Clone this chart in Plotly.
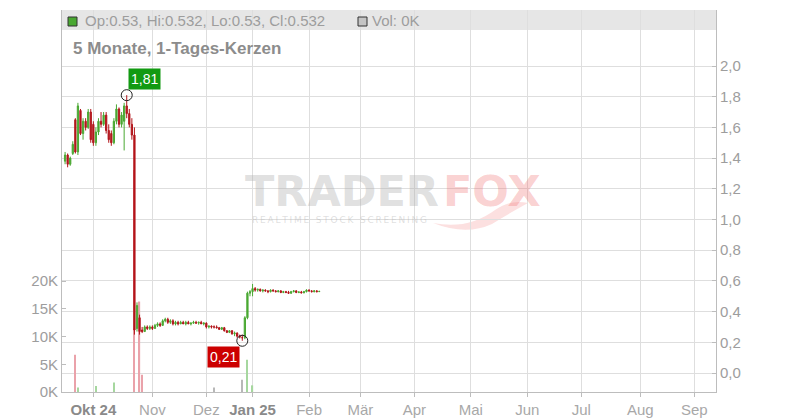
import plotly.graph_objects as go
import pandas as pd

# ---------------- data ----------------
holidays = ["2024-12-24", "2024-12-25", "2024-12-26", "2024-12-31", "2025-01-01"]
dates = [d for d in pd.bdate_range("2024-09-16", "2025-02-07").strftime("%Y-%m-%d") if d not in holidays]

opens = [1.38, 1.42, 1.36, 1.43, 1.65, 1.44, 1.71, 1.56, 1.64, 1.60, 1.70,
         1.62, 1.50, 1.57, 1.64, 1.62, 1.68, 1.58, 1.56, 1.50, 1.64, 1.72, 1.62, 1.64, 1.74, 1.69, 1.62, 1.55, 0.29, 0.36, 0.28, 0.27, 0.30, 0.29,
         0.30, 0.29, 0.31, 0.32, 0.31, 0.34, 0.35, 0.33, 0.34, 0.32, 0.33, 0.32, 0.33, 0.32, 0.33, 0.32, 0.325, 0.33, 0.325, 0.33, 0.32,
         0.325, 0.30, 0.305, 0.30, 0.30, 0.295, 0.285, 0.295, 0.275, 0.265, 0.275, 0.255, 0.26, 0.24, 0.23, 0.23, 0.36, 0.52,
         0.53, 0.55, 0.54, 0.545, 0.535, 0.54, 0.535, 0.53, 0.54, 0.535, 0.53, 0.535, 0.525, 0.53, 0.525, 0.52, 0.53, 0.535, 0.525, 0.528, 0.522, 0.53,
         0.54, 0.535, 0.53, 0.535, 0.53]
highs = [1.44, 1.43, 1.41, 1.51, 1.66, 1.76, 1.72, 1.66, 1.66, 1.72, 1.72,
         1.64, 1.60, 1.66, 1.70, 1.70, 1.70, 1.62, 1.58, 1.66, 1.75, 1.73, 1.70, 1.76, 1.81, 1.72, 1.66, 1.60, 0.46, 0.38, 0.30, 0.31, 0.31, 0.31,
         0.31, 0.32, 0.33, 0.33, 0.35, 0.36, 0.36, 0.35, 0.35, 0.34, 0.34, 0.34, 0.34, 0.34, 0.34, 0.33, 0.34, 0.34, 0.335, 0.34, 0.33,
         0.33, 0.31, 0.31, 0.31, 0.31, 0.30, 0.30, 0.30, 0.28, 0.28, 0.28, 0.27, 0.265, 0.25, 0.25, 0.37, 0.53, 0.54,
         0.58, 0.56, 0.55, 0.55, 0.545, 0.545, 0.54, 0.545, 0.545, 0.54, 0.54, 0.54, 0.535, 0.535, 0.535, 0.535, 0.54, 0.54, 0.53, 0.535, 0.535, 0.545,
         0.545, 0.54, 0.54, 0.54, 0.532]
lows = [1.36, 1.34, 1.35, 1.42, 1.43, 1.42, 1.55, 1.52, 1.58, 1.59, 1.50,
        1.48, 1.48, 1.55, 1.60, 1.61, 1.56, 1.50, 1.48, 1.49, 1.62, 1.60, 1.60, 1.45, 1.66, 1.60, 1.52, 0.25, 0.27, 0.25, 0.26, 0.27, 0.28, 0.28,
        0.28, 0.29, 0.30, 0.30, 0.31, 0.33, 0.32, 0.32, 0.31, 0.31, 0.31, 0.32, 0.32, 0.31, 0.32, 0.31, 0.32, 0.32, 0.315, 0.32, 0.31,
        0.29, 0.29, 0.29, 0.29, 0.29, 0.28, 0.28, 0.27, 0.26, 0.26, 0.25, 0.24, 0.23, 0.225, 0.21, 0.22, 0.35, 0.50,
        0.50, 0.53, 0.53, 0.53, 0.525, 0.53, 0.52, 0.525, 0.53, 0.525, 0.525, 0.52, 0.52, 0.52, 0.515, 0.515, 0.525, 0.52, 0.52, 0.52, 0.52, 0.525,
        0.53, 0.525, 0.525, 0.525, 0.53]
closes = [1.42, 1.36, 1.40, 1.49, 1.44, 1.74, 1.56, 1.64, 1.60, 1.70, 1.52,
          1.50, 1.57, 1.64, 1.62, 1.68, 1.58, 1.52, 1.50, 1.64, 1.72, 1.62, 1.68, 1.74, 1.69, 1.62, 1.55, 0.28, 0.44, 0.27, 0.27, 0.30, 0.29, 0.30,
          0.29, 0.31, 0.32, 0.31, 0.34, 0.35, 0.33, 0.34, 0.32, 0.33, 0.32, 0.33, 0.32, 0.33, 0.32, 0.325, 0.33, 0.325, 0.33, 0.32, 0.325,
          0.30, 0.305, 0.30, 0.30, 0.295, 0.285, 0.295, 0.275, 0.265, 0.275, 0.255, 0.26, 0.24, 0.235, 0.23, 0.36, 0.52, 0.53,
          0.55, 0.54, 0.545, 0.535, 0.54, 0.535, 0.53, 0.54, 0.535, 0.53, 0.535, 0.525, 0.53, 0.525, 0.52, 0.53, 0.535, 0.525, 0.528, 0.522, 0.53, 0.54,
          0.535, 0.53, 0.535, 0.53, 0.532]

vol_dates = ["2024-09-20", "2024-09-23", "2024-10-02", "2024-10-11", "2024-10-23", "2024-10-25",
             "2024-10-28", "2024-12-05", "2024-12-20", "2024-12-27", "2025-01-02"]
vol_values = [6700, 800, 1100, 1700, 40000, 16300, 3100, 800, 2200, 5800, 1200]

month_ticks = ["2024-10-01", "2024-11-01", "2024-12-02", "2025-01-02", "2025-02-03", "2025-03-03",
               "2025-04-01", "2025-05-01", "2025-06-02", "2025-07-01", "2025-08-01", "2025-09-01"]
month_labels = ["Okt 24", "Nov", "Dez", "Jan 25", "Feb", "Mär", "Apr", "Mai", "Jun", "Jul", "Aug", "Sep"]
price_ticks = [0.0, 0.2, 0.4, 0.6, 0.8, 1.0, 1.2, 1.4, 1.6, 1.8, 2.0]
vol_ticks = [0, 5000, 10000, 15000, 20000]
vol_labels = ["0K", "5K", "10K", "15K", "20K"]

# ---------------- styling ----------------
GREEN = "#4aa832"
RED = "#b3151b"
TXT = "#9d9d9d"
GRID = "#dedede"
AX = "#bdbdbd"
FONT = "Liberation Sans, Arial, sans-serif"

L, R, T, B = 62, 716, 10, 392
def px(x):
    return (x - L) / (R - L)
def py(y):
    return (B - y) / (B - T)

vmap = dict(zip(vol_dates, vol_values))
volumes = [vmap.get(d, 0) for d in dates]
vcolors = ["#b8b8b8" if c == o else ("#a6d79f" if c > o else "#eaa2aa") for o, c in zip(opens, closes)]

# year labels shown bold and darker
tick_text = [f'<span style="color:#8a8a8a"><b>{t}</b></span>' if " " in t else t for t in month_labels]

ih = highs.index(max(highs))
il = lows.index(min(lows))

fig = go.Figure()
fig.add_trace(go.Bar(x=dates, y=volumes, marker=dict(color=vcolors, line=dict(width=0)),
                     width=0.45 * 86400000, yaxis="y", showlegend=False, hoverinfo="skip"))
fig.add_trace(go.Candlestick(x=dates, open=opens, high=highs, low=lows, close=closes, yaxis="y2",
                             increasing=dict(line=dict(color=GREEN, width=1), fillcolor=GREEN),
                             decreasing=dict(line=dict(color=RED, width=1), fillcolor=RED),
                             whiskerwidth=0, showlegend=False, hoverinfo="skip"))
fig.add_trace(go.Scatter(x=[dates[ih], dates[il]], y=[highs[ih], lows[il]], mode="markers", yaxis="y2",
                         marker=dict(symbol="circle-open", size=11, color="#222222", line=dict(width=1)),
                         showlegend=False, hoverinfo="skip"))

def fmt(v):
    return f"{v:.2f}".replace(".", ",")

annotations = [
    dict(x=dates[ih], y=highs[ih], xref="x", yref="y2", text=fmt(highs[ih]), showarrow=False,
         xanchor="left", yanchor="bottom", xshift=1, yshift=5, bgcolor="#129a12", borderpad=2,
         font=dict(color="white", size=14, family=FONT)),
    dict(x=dates[il], y=lows[il], xref="x", yref="y2", text=fmt(lows[il]), showarrow=False,
         xanchor="right", yanchor="top", xshift=-2, yshift=-5, bgcolor="#cc0000", borderpad=2,
         font=dict(color="white", size=14, family=FONT)),
    dict(x=px(83), y=py(21), xref="paper", yref="paper", xanchor="left", yanchor="middle", showarrow=False,
         text=f"Op:{opens[-1]}, Hi:{highs[-1]}, Lo:{lows[-1]}, Cl:{closes[-1]}",
         font=dict(color=TXT, size=15, family=FONT)),
    dict(x=px(370), y=py(21), xref="paper", yref="paper", xanchor="left", yanchor="middle", showarrow=False,
         text=f"Vol: {volumes[-1] // 1000}K", font=dict(color=TXT, size=15, family=FONT)),
    dict(x=px(71), y=py(48), xref="paper", yref="paper", xanchor="left", yanchor="middle", showarrow=False,
         text="<b>5 Monate, 1-Tages-Kerzen</b>", font=dict(color="#8c8c8c", size=17, family=FONT)),
    # watermark
    dict(x=px(342), y=py(191), xref="paper", yref="paper", xanchor="center", yanchor="middle", showarrow=False,
         text="<b>TRADER</b>", font=dict(color="rgba(175,175,175,0.4)", size=43, family="DejaVu Sans")),
    dict(x=px(492), y=py(191), xref="paper", yref="paper", xanchor="center", yanchor="middle", showarrow=False,
         text="<b>FOX</b>", font=dict(color="rgba(240,100,100,0.3)", size=43, family="DejaVu Sans")),
    dict(x=px(339), y=py(220), xref="paper", yref="paper", xanchor="center", yanchor="middle", showarrow=False,
         text="\u2009".join("REALTIME STOCK SCREENING"), font=dict(color="rgba(175,175,175,0.4)", size=9, family="DejaVu Sans")),
]

# faint fox-tail swoosh of the watermark
swoosh_pts = [("M", 433, 223), ("Q", 468, 230, 495, 210), ("Q", 510, 199, 528, 203),
              ("Q", 508, 214, 492, 224), ("Q", 466, 236, 433, 223)]
def path_of(pts):
    parts = []
    for p in pts:
        cmd, coords = p[0], p[1:]
        xy = []
        for i in range(0, len(coords), 2):
            xy.append(f"{px(coords[i]):.4f},{py(coords[i + 1]):.4f}")
        parts.append(cmd + " " + " ".join(xy))
    return " ".join(parts) + " Z"

shapes = [
    dict(type="rect", xref="paper", yref="paper", x0=0, x1=1, y0=py(30), y1=1,
         fillcolor="#e6e6e6", line=dict(width=0), layer="below"),
    dict(type="rect", xref="paper", yref="paper", x0=px(68), x1=px(77), y0=py(26), y1=py(17),
         fillcolor=GREEN, line=dict(color="#333333", width=1)),
    dict(type="rect", xref="paper", yref="paper", x0=px(358), x1=px(367), y0=py(26), y1=py(17),
         fillcolor="#c4c4c4", line=dict(color="#333333", width=1)),
    dict(type="path", xref="paper", yref="paper", path=path_of(swoosh_pts),
         fillcolor="rgba(240,100,100,0.2)", line=dict(width=0), layer="below"),
]

price_per_px = 0.2 / 30.7
fig.update_layout(
    width=800, height=420, autosize=False,
    margin=dict(l=L, r=800 - R, t=T, b=420 - B, pad=0, autoexpand=False),
    paper_bgcolor="white", plot_bgcolor="rgba(0,0,0,0)",
    separators=",.",
    hovermode=False,
    font=dict(family=FONT, color=TXT),
    xaxis=dict(type="date", range=["2024-09-12 19:12", "2025-09-11 10:48"], automargin=False,
               rangebreaks=[dict(bounds=["sat", "mon"]), dict(values=holidays)],
               rangeslider=dict(visible=False),
               tickmode="array", tickvals=month_ticks, ticktext=tick_text,
               showgrid=True, gridcolor=GRID, gridwidth=1, zeroline=False,
               ticks="outside", ticklen=4, tickcolor=AX, showline=True, linecolor=AX, linewidth=1,
               tickfont=dict(size=15, color="#a8a8a8", family=FONT)),
    yaxis=dict(side="left", range=[0, (B - T) / 27.75 * 5000], tickmode="array", tickvals=vol_ticks, automargin=False,
               ticktext=vol_labels, showgrid=False, zeroline=False, ticks="inside", ticklen=4, tickcolor=AX,
               showline=True, linecolor=AX, linewidth=1, tickfont=dict(size=15, color=TXT, family=FONT)),
    yaxis2=dict(side="right", overlaying="y", range=[-(B - 373) * price_per_px, (373 - T) * price_per_px], automargin=False,
                tickmode="array", tickvals=price_ticks, tickformat=".1f",
                showgrid=True, gridcolor=GRID, gridwidth=1, zeroline=False, ticks="inside", ticklen=4, tickcolor=AX,
                showline=True, linecolor=AX, linewidth=1, tickfont=dict(size=15, color=TXT, family=FONT)),
    annotations=annotations,
    shapes=shapes,
    showlegend=False,
)

fig.write_html("out.html", config={"displayModeBar": False, "responsive": False},
               post_script="document.body.style.margin='0';document.body.style.overflow='hidden';")
